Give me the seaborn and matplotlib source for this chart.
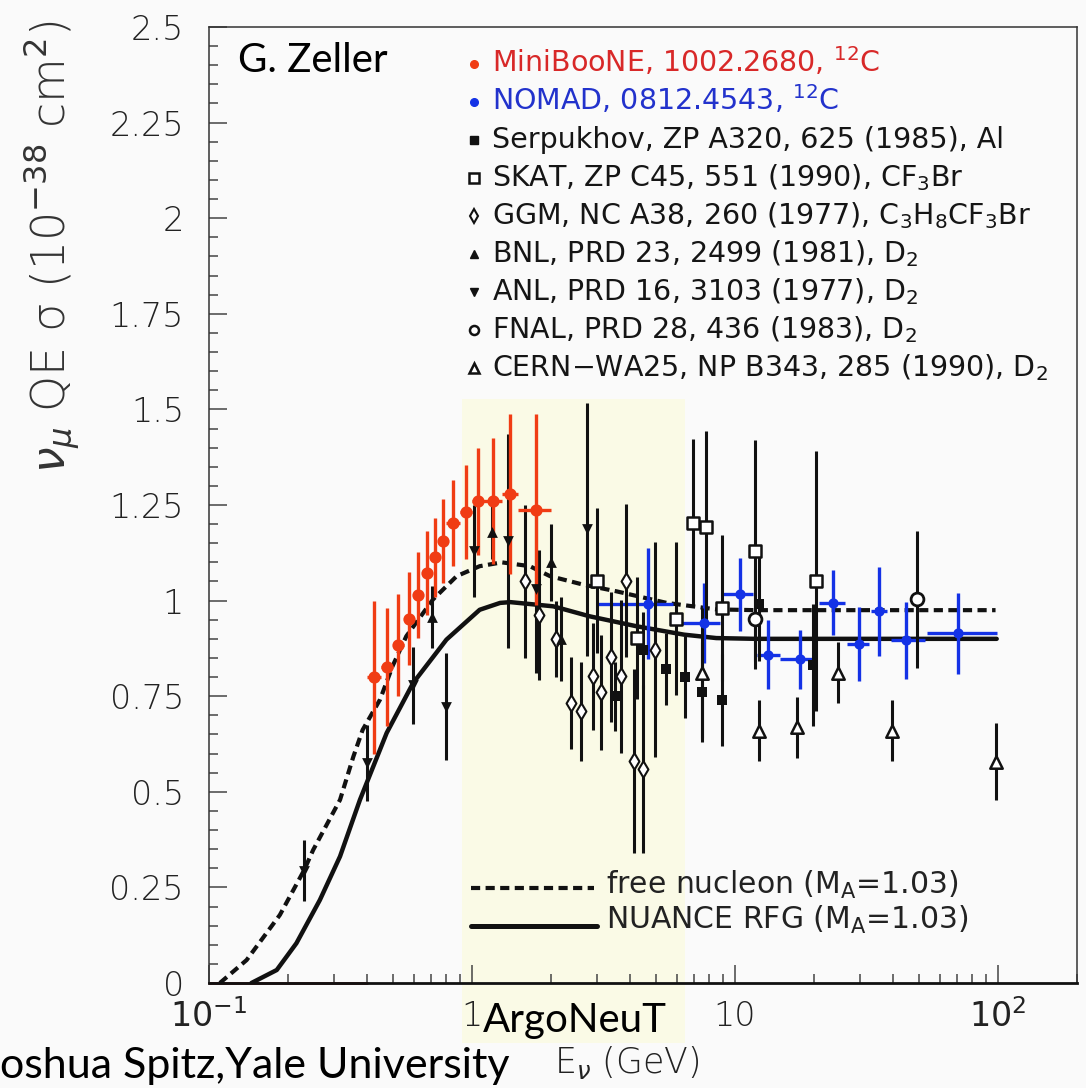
import matplotlib
matplotlib.use("Agg")
import matplotlib.pyplot as plt
from matplotlib.lines import Line2D
from matplotlib.patches import Rectangle
from matplotlib.ticker import FixedLocator, FixedFormatter, NullFormatter
import numpy as np
import pandas as pd
import seaborn as sns

# ---------------- data ----------------
# MiniBooNE (12C)
mb_e = [0.425, 0.475, 0.525, 0.575, 0.625, 0.675, 0.725, 0.775, 0.85, 0.95, 1.05, 1.2, 1.4, 1.75]
mb_lo = [0.40, 0.45, 0.50, 0.55, 0.60, 0.65, 0.70, 0.75, 0.80, 0.90, 1.00, 1.10, 1.30, 1.50]
mb_hi = [0.45, 0.50, 0.55, 0.60, 0.65, 0.70, 0.75, 0.80, 0.90, 1.00, 1.10, 1.30, 1.50, 2.00]
mb_sig = [0.80, 0.826, 0.883, 0.953, 1.014, 1.072, 1.113, 1.156, 1.203, 1.231, 1.26, 1.26, 1.279, 1.238]
mb_err = [0.20, 0.155, 0.133, 0.121, 0.112, 0.109, 0.104, 0.109, 0.113, 0.123, 0.14, 0.165, 0.21, 0.25]

# NOMAD (12C)
nd_e = [4.68, 7.62, 10.45, 13.4, 17.7, 23.6, 29.6, 35.4, 44.7, 70.6]
nd_lo = [3.0, 5.9, 9.0, 12.1, 14.8, 20.8, 26.6, 33.0, 39.3, 53.7]
nd_hi = [5.8, 8.8, 11.7, 14.8, 19.7, 26.3, 32.5, 38.0, 53.0, 99.0]
nd_sig = [0.992, 0.942, 1.016, 0.859, 0.846, 0.994, 0.887, 0.972, 0.896, 0.914]
nd_err = [0.145, 0.105, 0.095, 0.09, 0.077, 0.085, 0.096, 0.116, 0.10, 0.107]

# Serpukhov (Al)
sp_e = [3.50, 4.48, 5.47, 6.46, 7.47, 8.9, 12.3, 19.85]
sp_sig = [0.75, 0.87, 0.821, 0.80, 0.761, 0.741, 0.992, 0.831]
sp_err = [0.09, 0.10, 0.093, 0.107, 0.13, 0.12, 0.15, 0.16]

# SKAT (CF3Br)
sk_e = [2.98, 4.25, 5.97, 6.94, 7.74, 8.9, 11.9, 20.3]
sk_sig = [1.052, 0.902, 0.952, 1.203, 1.193, 0.981, 1.131, 1.05]
sk_err = [0.19, 0.16, 0.20, 0.22, 0.25, 0.19, 0.29, 0.34]

# GGM (C3H8CF3Br)
gg_e = [1.59, 1.80, 2.09, 2.38, 2.59, 2.88, 3.09, 3.38, 3.68, 3.85, 4.14, 4.46, 4.96]
gg_sig = [1.051, 0.962, 0.90, 0.732, 0.71, 0.802, 0.76, 0.853, 0.802, 1.052, 0.581, 0.559, 0.872]
gg_err = [0.20, 0.17, 0.10, 0.12, 0.13, 0.14, 0.15, 0.17, 0.20, 0.20, 0.24, 0.22, 0.28]

# BNL (D2)
bn_e = [0.703, 1.195, 1.99, 2.19]
bn_sig = [0.957, 1.179, 1.10, 0.90]
bn_err = [0.08, 0.07, 0.10, 0.11]

# ANL (D2)
an_e = [0.23, 0.40, 0.598, 0.796, 1.018, 1.374, 1.747, 2.73]
an_sig = [0.294, 0.575, 0.778, 0.723, 1.129, 1.155, 1.031, 1.186]
an_err = [0.08, 0.10, 0.10, 0.14, 0.12, 0.28, 0.22, 0.33]

# FNAL (D2)
fn_e = [11.9, 49.3]
fn_sig = [0.952, 1.003]
fn_err = [0.13, 0.18]

# CERN-WA25 (D2)
ce_e = [7.47, 12.3, 17.3, 24.7, 39.5, 98.3]
ce_sig = [0.811, 0.66, 0.669, 0.811, 0.66, 0.579]
ce_err = [0.17, 0.08, 0.08, 0.08, 0.08, 0.10]

# Predictions
free_e = [0.110, 0.139, 0.186, 0.23, 0.249, 0.315, 0.354, 0.384, 0.447, 0.50, 0.563,
          0.711, 0.875, 1.07, 1.3, 1.66, 1.98, 2.64, 3.56, 5.5, 8.5, 12, 20, 50, 98]
free_sig = [0.0, 0.06, 0.178, 0.295, 0.348, 0.479, 0.592, 0.662, 0.741, 0.83, 0.907,
            1.003, 1.064, 1.09, 1.10, 1.09, 1.064, 1.042, 1.024, 0.994, 0.977, 0.975, 0.975, 0.975, 0.975]
rfg_e = [0.145, 0.181, 0.215, 0.264, 0.315, 0.375, 0.474, 0.598, 0.80, 1.07, 1.28, 1.4,
         2.04, 2.8, 4.22, 6.4, 8.5, 12, 20, 50, 99]
rfg_sig = [0.0, 0.034, 0.104, 0.217, 0.331, 0.479, 0.654, 0.785, 0.898, 0.976, 0.994, 0.996,
           0.985, 0.959, 0.933, 0.911, 0.902, 0.90, 0.90, 0.90, 0.90]

# ArgoNeuT energy range
argo_range = [0.916, 6.46]

# Axis ticks
x_ticks = [0.1, 1, 10, 100]
x_tick_labels = [r"$10^{-1}$", "1", "10", r"$10^{2}$"]
y_ticks = [0, 0.25, 0.5, 0.75, 1, 1.25, 1.5, 1.75, 2, 2.25, 2.5]
y_tick_labels = ["0", "0.25", "0.5", "0.75", "1", "1.25", "1.5", "1.75", "2", "2.25", "2.5"]

legend_labels = [
    r"MiniBooNE, 1002.2680, $^{12}$C",
    r"NOMAD, 0812.4543, $^{12}$C",
    r"Serpukhov, ZP A320, 625 (1985), Al",
    r"SKAT, ZP C45, 551 (1990), CF$_3$Br",
    r"GGM, NC A38, 260 (1977), C$_3$H$_8$CF$_3$Br",
    r"BNL, PRD 23, 2499 (1981), D$_2$",
    r"ANL, PRD 16, 3103 (1977), D$_2$",
    r"FNAL, PRD 28, 436 (1983), D$_2$",
    r"CERN$-$WA25, NP B343, 285 (1990), D$_2$",
]
curve_labels = [r"free nucleon (M$_\mathsf{A}$=1.03)", r"NUANCE RFG (M$_\mathsf{A}$=1.03)"]

# ---------------- style ----------------
BG = "#fafafa"
RED = "#f03c14"
RED_TXT = "#d82828"
BLUE = "#1432e6"
BLUE_TXT = "#2232cc"
INK = "#111111"
BAND = "#fafae6"

sns.set_theme(style="ticks")
plt.rcParams["font.family"] = ["DejaVu Sans"]
plt.rcParams["mathtext.fontset"] = "dejavusans"

W, H = 1086, 1088
fig = plt.figure(figsize=(W / 100, H / 100), dpi=100, facecolor=BG)
ax = fig.add_axes([209 / W, 1 - 983 / H, 868 / W, 956 / H])
ax.set_facecolor(BG)
ax.set_xscale("log")
ax.set_xlim(0.1, 200)
ax.set_ylim(0, 2.5)


def fpos(x, y):
    return x / W, 1 - y / H


# ArgoNeuT band (extends below the axis to hold its label)
ax.add_patch(Rectangle((argo_range[0], -0.157), argo_range[1] - argo_range[0], 1.526 + 0.157,
                       facecolor=BAND, edgecolor="none", clip_on=False, zorder=0.5))
ax.plot([0.1, 0.4], [0, 0], color="#8b1414", lw=2, zorder=2, clip_on=False)

# prediction curves
sns.lineplot(x=free_e, y=free_sig, ax=ax, color=INK, lw=3.0, linestyle=(0, (2.2, 1.3)),
             sort=False, estimator=None, zorder=2.5)
sns.lineplot(x=rfg_e, y=rfg_sig, ax=ax, color=INK, lw=3.2, sort=False, estimator=None, zorder=2.5)


def xerr_from(c, lo, hi):
    c = np.asarray(c)
    return [c - np.asarray(lo), np.asarray(hi) - c]


# error bars
ax.errorbar(nd_e, nd_sig, yerr=nd_err, xerr=xerr_from(nd_e, nd_lo, nd_hi), fmt="none",
            ecolor=BLUE, elinewidth=2.4, capsize=0, zorder=3)
for e, sg, err in [(sp_e, sp_sig, sp_err), (sk_e, sk_sig, sk_err), (gg_e, gg_sig, gg_err),
                   (bn_e, bn_sig, bn_err), (an_e, an_sig, an_err), (fn_e, fn_sig, fn_err),
                   (ce_e, ce_sig, ce_err)]:
    ax.errorbar(e, sg, yerr=err, fmt="none", ecolor=INK, elinewidth=2.2, capsize=0, zorder=3)
ax.errorbar(mb_e, mb_sig, yerr=mb_err, xerr=xerr_from(mb_e, mb_lo, mb_hi), fmt="none",
            ecolor=RED, elinewidth=2.4, capsize=0, zorder=3)


# markers
def pts(e, sg, **kw):
    df = pd.DataFrame({"E": e, "sig": sg})
    sns.scatterplot(data=df, x="E", y="sig", ax=ax, legend=False, zorder=4, **kw)


pts(nd_e, nd_sig, marker="o", s=55, color=BLUE, edgecolor=BLUE, linewidth=0)
pts(sp_e, sp_sig, marker="s", s=55, color=INK, edgecolor=INK, linewidth=0)
pts(sk_e, sk_sig, marker="s", s=85, color="white", edgecolor=INK, linewidth=1.8)
pts(gg_e, gg_sig, marker="d", s=70, color="white", edgecolor=INK, linewidth=1.5)
pts(bn_e, bn_sig, marker="^", s=60, color=INK, edgecolor=INK, linewidth=0)
pts(an_e, an_sig, marker="v", s=60, color=INK, edgecolor=INK, linewidth=0)
pts(fn_e, fn_sig, marker="o", s=85, color="white", edgecolor=INK, linewidth=2.0)
pts(ce_e, ce_sig, marker="^", s=80, color="white", edgecolor=INK, linewidth=1.8)
pts(mb_e, mb_sig, marker="o", s=78, color=RED, edgecolor=RED, linewidth=0)

# axes frame and ticks
for side in ["top", "right", "left"]:
    ax.spines[side].set_linewidth(1.1)
    ax.spines[side].set_color("#333333")
ax.spines["bottom"].set_linewidth(2.0)
ax.spines["bottom"].set_color(INK)

ax.xaxis.set_major_locator(FixedLocator(x_ticks))
ax.xaxis.set_major_formatter(FixedFormatter(x_tick_labels))
ax.xaxis.set_minor_locator(FixedLocator([m * 10.0 ** k for k in range(-1, 3) for m in range(2, 10)]))
ax.xaxis.set_minor_formatter(NullFormatter())
ax.yaxis.set_major_locator(FixedLocator(y_ticks))
ax.yaxis.set_major_formatter(FixedFormatter(y_tick_labels))
ax.yaxis.set_minor_locator(FixedLocator(np.arange(0, 2.5001, 0.05)))

ax.tick_params(axis="both", which="both", direction="in", top=False, right=False,
               color="#444444", width=1.1)
ax.tick_params(axis="both", which="major", length=13, labelsize=24, labelcolor="#222222")
ax.tick_params(axis="both", which="minor", length=6.5)
ax.tick_params(axis="y", which="major", pad=18)
ax.tick_params(axis="x", which="major", pad=12)
for lab in ax.get_xticklabels() + ax.get_yticklabels():
    lab.set_fontweight("light")
ax.set_xlabel("")
ax.set_ylabel("")

# axis titles
fig.text(*fpos(52, 247), r"$\nu_{\mu}$ QE σ (10$^{-38}$ cm$^{2}$)", rotation=90,
         ha="center", va="center", fontsize=33, color="#333333", fontweight="light")
fig.text(*fpos(554, 1073), r"E$_\nu$ (GeV)", ha="left", va="baseline", fontsize=25,
         color="#222222", fontweight="light")

# annotations
fig.text(*fpos(238, 72), "G. Zeller", ha="left", va="baseline", fontsize=29,
         family=["Lato", "DejaVu Sans"], color="black")
fig.text(*fpos(575, 1032), "ArgoNeuT", ha="center", va="baseline", fontsize=29,
         family=["Lato", "DejaVu Sans"], color="black")
fig.text(*fpos(0, 1078), "oshua Spitz,Yale University", ha="left", va="baseline", fontsize=31,
         family=["Lato", "DejaVu Sans"], color="black")

# data-set legend
leg_markers = [
    dict(marker="o", ms=5.5, mfc=RED, mec=RED),
    dict(marker="o", ms=5.5, mfc=BLUE, mec=BLUE),
    dict(marker="s", ms=5.5, mfc=INK, mec=INK),
    dict(marker="s", ms=6.5, mfc="white", mec=INK, mew=1.8),
    dict(marker="d", ms=7.5, mfc="white", mec=INK, mew=1.5),
    dict(marker="^", ms=5.5, mfc=INK, mec=INK),
    dict(marker="v", ms=5.5, mfc=INK, mec=INK),
    dict(marker="o", ms=6.5, mfc="white", mec=INK, mew=1.8),
    dict(marker="^", ms=7.5, mfc="white", mec=INK, mew=1.8),
]
leg_colors = [RED_TXT, BLUE_TXT] + ["#151515"] * 7
for i, (lab, mk, col) in enumerate(zip(legend_labels, leg_markers, leg_colors)):
    yc = 62 + 38.0 * i
    fig.add_artist(Line2D([474 / W], [1 - (yc + 2) / H], transform=fig.transFigure, ls="none", **mk))
    fig.text(*fpos(492, yc + 10), lab, ha="left", va="baseline", fontsize=20.5, color=col)

# prediction legend
fig.add_artist(Line2D([471 / W, 594 / W], [1 - 888 / H] * 2, transform=fig.transFigure,
                      color=INK, lw=3.0, linestyle=(0, (2.2, 1.3))))
fig.add_artist(Line2D([471 / W, 597 / W], [1 - 926 / H] * 2, transform=fig.transFigure,
                      color=INK, lw=3.6))
fig.text(*fpos(606, 894), curve_labels[0], ha="left", va="baseline", fontsize=21.5, color="#222222")
fig.text(*fpos(606, 929), curve_labels[1], ha="left", va="baseline", fontsize=21.5, color="#222222")

fig.savefig("out.png", dpi=100, facecolor=BG)
